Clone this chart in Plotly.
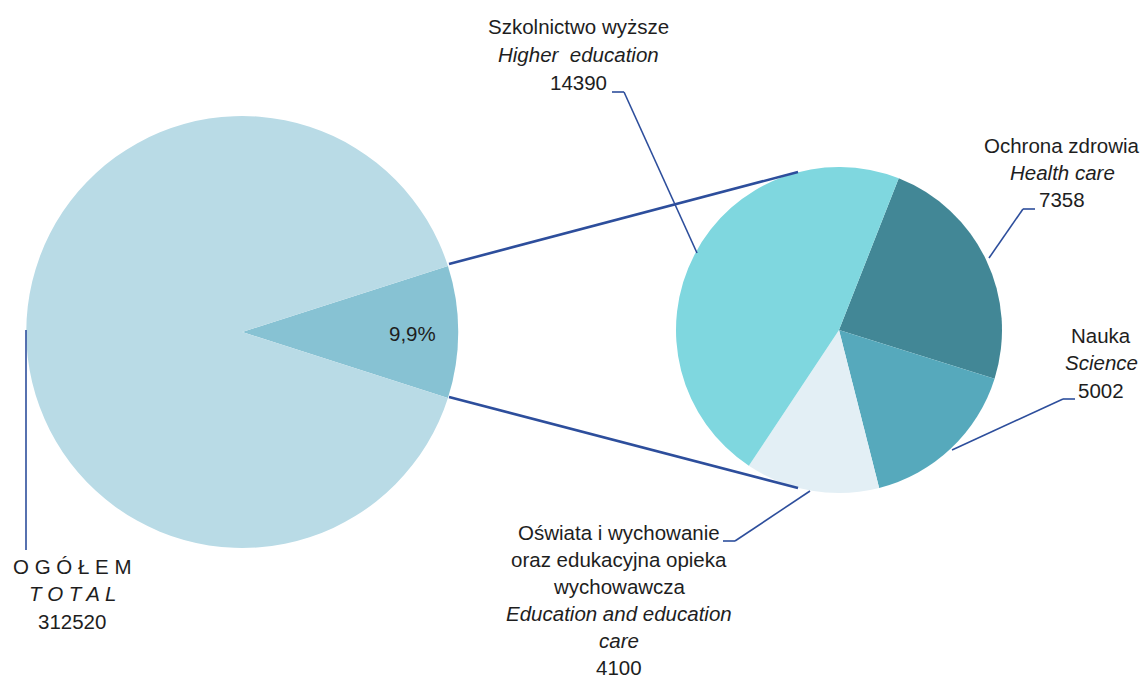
import plotly.graph_objects as go

# ---- data ----
total_label_pl = "O G Ó Ł E M"
total_label_en = "T O T A L"
total_value = 312520
share_text = "9,9%"

sub_labels_pl = ["Ochrona zdrowia", "Nauka", "Oświata i wychowanie<br>oraz edukacyjna opieka<br>wychowawcza", "Szkolnictwo wyższe"]
sub_labels_en = ["Health care", "Science", "Education and education<br>care", "Higher  education"]
sub_values = [7358, 5002, 4100, 14390]

sub_total = sum(sub_values)
main_values = [sub_total, total_value - sub_total]

W, H = 1141, 682
FONT = "Liberation Sans, Arial, sans-serif"
TXT = "#1e1e1e"
LINE = "#2d4e9c"

def px(x):
    return x / W

def py(y):
    return 1 - y / H

fig = go.Figure()

# large pie
rot_main = 90 - 360 * main_values[0] / sum(main_values) / 2
fig.add_trace(go.Pie(
    values=main_values, labels=["sub", "rest"], sort=False, direction="clockwise",
    rotation=rot_main, textinfo="none", hoverinfo="skip",
    marker=dict(colors=["#87c2d3", "#b9dbe6"], line=dict(width=0)),
    domain=dict(x=[px(25.5), px(459)], y=[py(548), py(116)]),
    showlegend=False,
))

# small pie
fig.add_trace(go.Pie(
    values=sub_values, labels=sub_labels_pl, sort=False, direction="clockwise",
    rotation=21.5, textinfo="none", hoverinfo="skip",
    marker=dict(colors=["#428796", "#56a9bc", "#e3eff5", "#7fd7df"], line=dict(width=0)),
    domain=dict(x=[px(676), px(1002)], y=[py(493), py(167)]),
    showlegend=False,
))

shapes = []
def seg(x0, y0, x1, y1, w=1.6):
    shapes.append(dict(type="line", xref="paper", yref="paper",
                       x0=px(x0), y0=py(y0), x1=px(x1), y1=py(y1),
                       line=dict(color=LINE, width=w)))

# connector lines between pies
seg(449, 264, 798, 172, 2.6)
seg(449, 397, 798, 488, 2.6)
# leader lines
seg(612, 92, 624, 92)
seg(624, 92, 697, 253)
seg(1023, 209, 1035, 209)
seg(1023, 209, 989, 258)
seg(1063, 399, 1075, 399)
seg(1063, 399, 952, 450)
seg(723, 541, 735, 541)
seg(735, 541, 810, 491)
seg(26, 330, 26, 550)

annotations = []
def txt(s, x, y, italic=False, size=20.5):
    if italic:
        s = "<i>" + s + "</i>"
    annotations.append(dict(text=s, x=px(x), y=py(y), xref="paper", yref="paper",
                            xanchor="center", yanchor="middle", showarrow=False,
                            font=dict(family=FONT, size=size, color=TXT)))

def block(lines, x, y0, step=28.3):
    for i, (s, it) in enumerate(lines):
        txt(s, x, y0 + i * step, it)

def split(s):
    return s.split("<br>")

# Health care
block([(sub_labels_pl[0], False), (sub_labels_en[0], True), (str(sub_values[0]), False)], 1062, 145, 27.5)
# Science
block([(sub_labels_pl[1], False), (sub_labels_en[1], True), (str(sub_values[1]), False)], 1101, 335, 27.5)
# Education
edu = [(s, False) for s in split(sub_labels_pl[2])] + [(s, True) for s in split(sub_labels_en[2])] + [(str(sub_values[2]), False)]
block(edu, 619, 532, 27.0)
# Higher education
block([(sub_labels_pl[3], False), (sub_labels_en[3], True), (str(sub_values[3]), False)], 578, 27, 27.5)
# Total
block([(total_label_pl, False), (total_label_en, True), (str(total_value), False)], 72, 566, 27.8)
# share
txt(share_text, 412, 333)

fig.update_layout(
    width=W, height=H, margin=dict(l=0, r=0, t=0, b=0),
    paper_bgcolor="white", plot_bgcolor="white",
    shapes=shapes, annotations=annotations, showlegend=False,
)

fig.write_html("out.html", config={"displayModeBar": False},
               post_script="document.body.style.margin='0';document.body.style.overflow='hidden';")
